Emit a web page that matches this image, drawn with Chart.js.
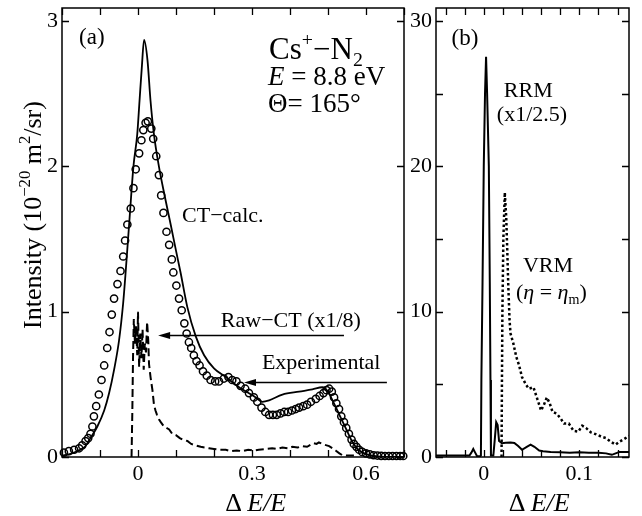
<!DOCTYPE html>
<html>
<head>
<meta charset="utf-8">
<script src="https://cdn.jsdelivr.net/npm/chart.js"></script>
<style>
  html, body { margin: 0; padding: 0; background: #fff; }
  #wrap { position: relative; width: 642px; height: 516px; overflow: hidden; }
  #wrap canvas { position: absolute; top: 0; }
</style>
</head>
<body>
<div id="wrap">
  <canvas id="chartA" width="420" height="516" style="left:0"></canvas>
  <canvas id="chartB" width="242" height="516" style="left:400px"></canvas>
</div>
<script>
// (a) CT-calc. curve
const calcX = [-0.2, -0.18, -0.16, -0.14, -0.125, -0.107, -0.089, -0.076, -0.063, -0.05, -0.039, -0.032, -0.022, -0.012, -0.002, 0.004, 0.01, 0.016, 0.025, 0.033, 0.042, 0.055, 0.07, 0.086, 0.1, 0.112, 0.13, 0.152, 0.174, 0.2, 0.231, 0.266, 0.31, 0.327, 0.345, 0.38, 0.424, 0.459, 0.485, 0.5, 0.51, 0.53, 0.55, 0.565, 0.58, 0.6, 0.63, 0.7];
const calcY = [0.01, 0.02, 0.04, 0.07, 0.13, 0.21, 0.32, 0.44, 0.60, 0.80, 1.06, 1.29, 1.65, 2.0, 2.22, 2.45, 2.68, 2.87, 2.73, 2.45, 2.22, 2.0, 1.80, 1.60, 1.42, 1.27, 1.03, 0.83, 0.70, 0.61, 0.55, 0.48, 0.41, 0.38, 0.39, 0.43, 0.45, 0.465, 0.48, 0.45, 0.40, 0.29, 0.18, 0.10, 0.05, 0.02, 0.005, 0.0];

// (a) experimental points
const expX = [-0.195, -0.182, -0.168, -0.155, -0.147, -0.138, -0.131, -0.125, -0.12, -0.116, -0.11, -0.103, -0.096, -0.089, -0.081, -0.075, -0.069, -0.063, -0.054, -0.046, -0.039, -0.034, -0.028, -0.019, -0.012, -0.006, 0.003, 0.009, 0.014, 0.02, 0.026, 0.035, 0.04, 0.048, 0.055, 0.061, 0.067, 0.075, 0.082, 0.089, 0.093, 0.101, 0.108, 0.115, 0.122, 0.128, 0.134, 0.14, 0.147, 0.154, 0.162, 0.171, 0.181, 0.191, 0.203, 0.213, 0.226, 0.238, 0.248, 0.259, 0.27, 0.282, 0.292, 0.305, 0.314, 0.325, 0.335, 0.345, 0.355, 0.365, 0.375, 0.385, 0.395, 0.405, 0.415, 0.424, 0.435, 0.445, 0.455, 0.468, 0.478, 0.488, 0.496, 0.503, 0.51, 0.516, 0.522, 0.529, 0.535, 0.542, 0.548, 0.555, 0.562, 0.568, 0.575, 0.582, 0.59, 0.6, 0.61, 0.62, 0.63, 0.64, 0.65, 0.66, 0.67, 0.68, 0.69, 0.698];
const expY = [0.03, 0.04, 0.05, 0.06, 0.08, 0.11, 0.13, 0.16, 0.21, 0.28, 0.35, 0.43, 0.53, 0.63, 0.75, 0.86, 0.98, 1.09, 1.19, 1.28, 1.38, 1.49, 1.60, 1.71, 1.85, 1.98, 2.09, 2.18, 2.25, 2.30, 2.31, 2.26, 2.19, 2.07, 1.94, 1.80, 1.68, 1.55, 1.46, 1.36, 1.27, 1.18, 1.09, 1.01, 0.92, 0.85, 0.79, 0.75, 0.70, 0.66, 0.63, 0.59, 0.56, 0.53, 0.52, 0.52, 0.54, 0.55, 0.53, 0.52, 0.49, 0.47, 0.44, 0.41, 0.38, 0.34, 0.31, 0.29, 0.29, 0.29, 0.30, 0.31, 0.31, 0.32, 0.33, 0.34, 0.35, 0.36, 0.38, 0.40, 0.42, 0.44, 0.46, 0.47, 0.45, 0.41, 0.37, 0.33, 0.28, 0.24, 0.20, 0.16, 0.12, 0.09, 0.07, 0.05, 0.035, 0.025, 0.018, 0.012, 0.01, 0.008, 0.007, 0.007, 0.007, 0.007, 0.007, 0.007];

// (a) Raw-CT (x1/8)
const rawX = [-0.017, -0.015, -0.013, -0.011, -0.008, -0.005, -0.002, 0.0, 0.003, 0.006, 0.009, 0.012, 0.015, 0.018, 0.021, 0.024, 0.027, 0.029, 0.033, 0.038, 0.042, 0.046, 0.05, 0.055, 0.06, 0.068, 0.075, 0.082, 0.09, 0.1, 0.11, 0.117, 0.13, 0.14, 0.152, 0.165, 0.175, 0.187, 0.2, 0.215, 0.231, 0.245, 0.26, 0.275, 0.29, 0.305, 0.318, 0.335, 0.353, 0.365, 0.38, 0.395, 0.406, 0.42, 0.432, 0.445, 0.455, 0.463, 0.47, 0.476, 0.49, 0.503, 0.512, 0.52, 0.53, 0.538, 0.55, 0.56, 0.57];
const rawY = [0, 0.3, 0.7, 0.95, 0.78, 0.9, 0.7, 1.0, 0.62, 0.85, 0.68, 0.88, 0.6, 0.78, 0.72, 0.93, 0.8, 0.64, 0.55, 0.46, 0.36, 0.32, 0.29, 0.26, 0.24, 0.21, 0.2, 0.19, 0.16, 0.15, 0.13, 0.12, 0.11, 0.09, 0.08, 0.07, 0.065, 0.06, 0.055, 0.05, 0.05, 0.04, 0.045, 0.04, 0.05, 0.045, 0.05, 0.055, 0.06, 0.055, 0.065, 0.06, 0.07, 0.065, 0.075, 0.07, 0.085, 0.095, 0.09, 0.1, 0.085, 0.075, 0.06, 0.045, 0.025, 0.012, 0.01, 0.01, 0.01];

// (b) RRM (x1/2.5)
const rrmX = [-0.05, -0.03, -0.015, -0.013, -0.011, -0.009, -0.007, -0.004, -0.003, -0.0025, -0.0013, 0.0, 0.0013, 0.0024, 0.0035, 0.0053, 0.0063, 0.007, 0.0075, 0.01, 0.0115, 0.013, 0.0145, 0.016, 0.019, 0.023, 0.028, 0.032, 0.036, 0.04, 0.045, 0.049, 0.053, 0.058, 0.062, 0.07, 0.08, 0.09, 0.1, 0.11, 0.12, 0.128, 0.134, 0.138, 0.142, 0.152];
const rrmY = [0.1, 0.1, 0.1, 0.3, 0.55, 0.3, 0.05, 0.05, 0.1, 5.3, 12, 20, 25, 27.55, 25, 20, 12, 5.3, 0.1, 0.1, 1.2, 2.4, 2.2, 1.1, 0.95, 0.98, 1.0, 0.97, 0.75, 0.5, 0.7, 0.85, 0.7, 0.45, 0.4, 0.35, 0.32, 0.3, 0.32, 0.3, 0.3, 0.25, 0.15, 0.25, 0.35, 0.35];

// (b) VRM (eta = eta_m)
const vrmX = [0.0186, 0.019, 0.0195, 0.0205, 0.022, 0.0235, 0.0246, 0.0256, 0.027, 0.028, 0.031, 0.034, 0.037, 0.04, 0.044, 0.047, 0.052, 0.056, 0.06, 0.063, 0.066, 0.069, 0.072, 0.076, 0.08, 0.084, 0.089, 0.094, 0.099, 0.103, 0.107, 0.112, 0.118, 0.123, 0.128, 0.133, 0.138, 0.142, 0.146, 0.152];
const vrmY = [0, 5, 10, 15, 18.2, 16.5, 14.2, 11.9, 9.4, 8.5, 7.8, 6.9, 6.3, 5.5, 5.0, 4.7, 4.8, 4.0, 3.2, 3.6, 4.1, 3.7, 3.1, 3.0, 2.7, 2.3, 2.3, 1.8, 1.75, 2.15, 2.0, 1.7, 1.55, 1.4, 1.3, 1.05, 0.85, 1.05, 1.2, 1.45];

// labelled tick values
const xLabelsA = [0, 0.3, 0.6];
const yLabelsA = [0, 1, 2, 3];
const xLabelsB = [0, 0.1];
const yLabelsB = [0, 10, 20, 30];

const SERIF = '"Liberation Serif", "Times New Roman", serif';

const zip = (xs, ys) => xs.map((x, i) => ({ x, y: ys[i] }));
const tickText = list => v => {
  const hit = list.find(u => Math.abs(u - v) < 1e-6);
  return hit === undefined ? '' : String(hit);
};
// every multiple of step inside [min, max]
function stepTicks(min, max, step) {
  const out = [];
  for (let k = Math.ceil(min / step - 1e-9); k <= Math.floor(max / step + 1e-9); k++) {
    out.push({ value: +(k * step).toFixed(6) });
  }
  return out;
}

// draws text made of runs: [text, style] with style '', 'i', 'sup', 'sub'
function richText(ctx, parts, x, y, size, draw) {
  let cx = x;
  for (const [t, st = ''] of parts) {
    const small = st === 'sup' || st === 'sub';
    const fs = small ? size * 0.64 : size;
    ctx.font = (st === 'i' ? 'italic ' : '') + fs + 'px ' + SERIF;
    const dy = st === 'sup' ? -size * 0.42 : st === 'sub' ? size * 0.24 : 0;
    if (draw) ctx.fillText(t, cx, y + dy);
    cx += ctx.measureText(t).width;
  }
  return cx - x;
}

// box frame with inward ticks on all four sides
const frameTicks = {
  id: 'frameTicks',
  afterDraw(chart) {
    const { ctx, chartArea: a, scales: { x, y } } = chart;
    const len = 7;
    ctx.save();
    ctx.strokeStyle = '#000';
    ctx.lineWidth = 1.5;
    ctx.strokeRect(a.left, a.top, a.right - a.left, a.bottom - a.top);
    ctx.lineWidth = 1.3;
    ctx.beginPath();
    x.ticks.forEach(t => {
      const px = Math.round(x.getPixelForValue(t.value)) + 0.5;
      ctx.moveTo(px, a.bottom); ctx.lineTo(px, a.bottom - len);
      ctx.moveTo(px, a.top); ctx.lineTo(px, a.top + len);
    });
    y.ticks.forEach(t => {
      const py = Math.round(y.getPixelForValue(t.value)) + 0.5;
      ctx.moveTo(a.left, py); ctx.lineTo(a.left + len, py);
      ctx.moveTo(a.right, py); ctx.lineTo(a.right - len, py);
    });
    ctx.stroke();
    ctx.restore();
  }
};

// in-plot labels, arrows and axis titles
const notes = {
  id: 'notes',
  afterDraw(chart, args, opts) {
    const { ctx, chartArea: a, scales: { x, y } } = chart;
    ctx.save();
    ctx.fillStyle = '#000';
    ctx.strokeStyle = '#000';
    ctx.textBaseline = 'alphabetic';
    ctx.textAlign = 'left';
    (opts.texts || []).forEach(n => {
      richText(ctx, n.parts, x.getPixelForValue(n.x), y.getPixelForValue(n.y), n.size, true);
    });
    (opts.arrows || []).forEach(r => {
      const x1 = x.getPixelForValue(r.x1), x2 = x.getPixelForValue(r.x2);
      const py = Math.round(y.getPixelForValue(r.y)) + 0.5;
      ctx.lineWidth = 1.3;
      ctx.beginPath();
      ctx.moveTo(x1, py); ctx.lineTo(x2 + 8, py);
      ctx.stroke();
      ctx.beginPath();
      ctx.moveTo(x2, py);
      ctx.lineTo(x2 + 12, py - 3.6);
      ctx.lineTo(x2 + 12, py + 3.6);
      ctx.closePath();
      ctx.fill();
    });
    if (opts.xTitle) {
      const t = opts.xTitle;
      const w = richText(ctx, t.parts, 0, 0, t.size, false);
      richText(ctx, t.parts, x.getPixelForValue(t.x) - w / 2, t.base, t.size, true);
    }
    if (opts.yTitle) {
      const t = opts.yTitle;
      const w = richText(ctx, t.parts, 0, 0, t.size, false);
      ctx.translate(a.left + t.dx, t.cy);
      ctx.rotate(-Math.PI / 2);
      richText(ctx, t.parts, -w / 2, 0, t.size, true);
    }
    ctx.restore();
  }
};

const deltaTitle = [['\u0394\u2009'], ['E/E', 'i']];

function baseScales(xMin, xMax, xStep, xList, yMax, yStep, yList, yWidth) {
  const tickFont = { family: SERIF, size: 22 };
  return {
    x: {
      type: 'linear', min: xMin, max: xMax,
      grid: { display: false, drawTicks: false }, border: { display: false },
      ticks: { autoSkip: false, maxRotation: 0, padding: 4, color: '#000', font: tickFont, callback: tickText(xList) },
      afterBuildTicks: s => { s.ticks = stepTicks(xMin, xMax, xStep); },
      afterFit: s => { s.height = 59; s.paddingLeft = 0; s.paddingRight = 0; }
    },
    y: {
      type: 'linear', min: 0, max: yMax,
      grid: { display: false, drawTicks: false }, border: { display: false },
      ticks: { autoSkip: false, padding: 4, color: '#000', font: tickFont, callback: tickText(yList) },
      afterBuildTicks: s => { s.ticks = stepTicks(0, yMax, yStep); },
      afterFit: s => { s.width = yWidth; s.paddingTop = 0; s.paddingBottom = 0; }
    }
  };
}

new Chart(document.getElementById('chartA'), {
  type: 'scatter',
  data: {
    datasets: [
      { data: zip(calcX, calcY), showLine: true, borderColor: '#000', borderWidth: 1.8, pointRadius: 0, cubicInterpolationMode: 'monotone' },
      { data: zip(rawX, rawY), showLine: true, borderColor: '#000', borderWidth: 2, borderDash: [8, 4], pointRadius: 0, tension: 0 },
      { data: zip(expX, expY), showLine: false, pointRadius: 3.6, pointBorderWidth: 1.5, pointBorderColor: '#000', pointBackgroundColor: 'rgba(0,0,0,0)', clip: 6 }
    ]
  },
  options: {
    responsive: false, animation: false, devicePixelRatio: 1,
    layout: { padding: { left: 0, top: 8, right: 16, bottom: 0 } },
    scales: baseScales(-0.2, 0.7, 0.1, xLabelsA, 3.09, 1, yLabelsA, 62),
    plugins: {
      legend: { display: false }, tooltip: { enabled: false },
      notes: {
        texts: [
          { x: -0.155, y: 2.84, size: 23, parts: [['(a)']] },
          { x: 0.345, y: 2.74, size: 31, parts: [['Cs'], ['+', 'sup'], ['\u2212N'], ['2', 'sub']] },
          { x: 0.342, y: 2.557, size: 27, parts: [['E', 'i'], [' = 8.8 eV']] },
          { x: 0.342, y: 2.371, size: 27, parts: [['\u0398= 165\u00b0']] },
          { x: 0.116, y: 1.62, size: 22, parts: [['CT\u2212calc.']] },
          { x: 0.218, y: 0.893, size: 22, parts: [['Raw\u2212CT (x1/8)']] },
          { x: 0.326, y: 0.605, size: 22, parts: [['Experimental']] }
        ],
        arrows: [
          { x1: 0.542, x2: 0.053, y: 0.838 },
          { x1: 0.655, x2: 0.279, y: 0.515 }
        ],
        xTitle: { x: 0.31, base: 511, size: 26, parts: deltaTitle },
        yTitle: { dx: -21, cy: 215, size: 26, parts: [['Intensity (10'], ['\u221220', 'sup'], [' m'], ['2', 'sup'], ['/sr)']] }
      }
    }
  },
  plugins: [frameTicks, notes]
});

new Chart(document.getElementById('chartB'), {
  type: 'scatter',
  data: {
    datasets: [
      { data: zip(rrmX, rrmY), showLine: true, borderColor: '#000', borderWidth: 2, pointRadius: 0, tension: 0 },
      { data: zip(vrmX, vrmY), showLine: true, borderColor: '#000', borderWidth: 2.5, borderDash: [2.5, 2.5], pointRadius: 0, tension: 0 }
    ]
  },
  options: {
    responsive: false, animation: false, devicePixelRatio: 1,
    layout: { padding: { left: 0, top: 8, right: 13, bottom: 0 } },
    scales: baseScales(-0.05, 0.152, 0.02, xLabelsB, 30.9, 5, yLabelsB, 36),
    plugins: {
      legend: { display: false }, tooltip: { enabled: false },
      notes: {
        texts: [
          { x: -0.0337, y: 28.35, size: 23, parts: [['(b)']] },
          { x: 0.021, y: 24.78, size: 22, parts: [['RRM']] },
          { x: 0.0137, y: 23.12, size: 22, parts: [['(x1/2.5)']] },
          { x: 0.041, y: 12.73, size: 22, parts: [['VRM']] },
          { x: 0.0337, y: 10.87, size: 22, parts: [['('], ['\u03b7', 'i'], [' = '], ['\u03b7', 'i'], ['m', 'sub'], [')']] }
        ],
        xTitle: { x: 0.058, base: 511, size: 26, parts: deltaTitle }
      }
    }
  },
  plugins: [frameTicks, notes]
});
</script>
</body>
</html>
